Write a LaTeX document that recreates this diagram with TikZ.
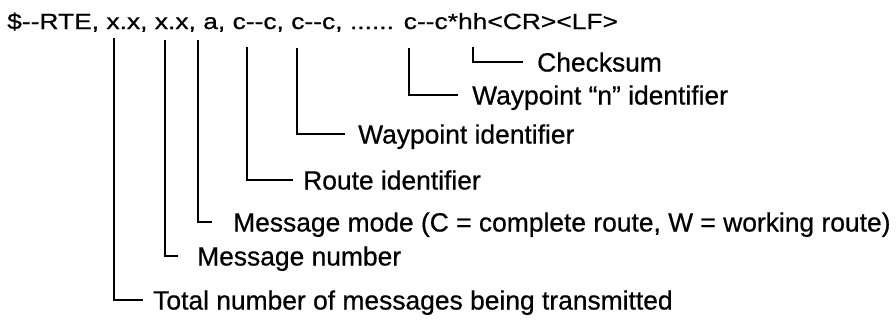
\documentclass[tikz,border=0pt]{standalone}
\usepackage{fontspec}
\newfontfamily\lblfam[FakeBold=0.6]{Liberation Sans}
\newfontfamily\hdrfam[FakeStretch=1.2,FakeBold=0.7]{Liberation Sans}
\begin{document}
\begin{tikzpicture}[x=1pt,y=-1pt,
  lbl/.style={anchor=west, inner sep=0pt, font=\lblfam\fontsize{26.4}{30}\selectfont, text height=19pt, text depth=0pt},
  hdr/.style={anchor=base west, inner sep=0pt, font=\hdrfam\fontsize{22}{26}\selectfont},
  lead/.style={line width=1.6pt, line join=miter}]
\useasboundingbox[fill=white] (0,0) rectangle (896,330);
\node[hdr] (header) at (7,29) {\$-{}-RTE, x.x, x.x, a, c-{}-c, c-{}-c, ...... c-{}-c*hh<CR><LF>};
% label nodes
\node[lbl] (total)  at (153,300) {Total number of messages being transmitted};
\node[lbl] (msgnum) at (197,256) {Message number};
\node[lbl] (mode)   at (233,222) {Message mode (C = complete route, W = working route)};
\node[lbl] (route)  at (303,180) {Route identifier};
\node[lbl] (wpt)    at (358,134) {Waypoint identifier};
\node[lbl] (wptn)   at (472,95)  {Waypoint “n” identifier};
\node[lbl] (chk)    at (537,62)  {Checksum};
% line tops under the header fields
\coordinate (t1) at (114,38);
\coordinate (t2) at (165,40);
\coordinate (t3) at (198,40);
\coordinate (t4) at (247,47);
\coordinate (t5) at (297,48);
\coordinate (t6) at (409,48);
\coordinate (t7) at (473,47);
\draw[lead, shorten >=10pt] (t1) |- (total.west);
\draw[lead, shorten >=19pt] (t2) |- (msgnum.west);
\draw[lead, shorten >=21pt] (t3) |- (mode.west);
\draw[lead, shorten >=10pt] (t4) |- (route.west);
\draw[lead, shorten >=13pt] (t5) |- (wpt.west);
\draw[lead, shorten >=14pt] (t6) |- (wptn.west);
\draw[lead, shorten >=14pt] (t7) |- (chk.west);
\end{tikzpicture}
\end{document}
